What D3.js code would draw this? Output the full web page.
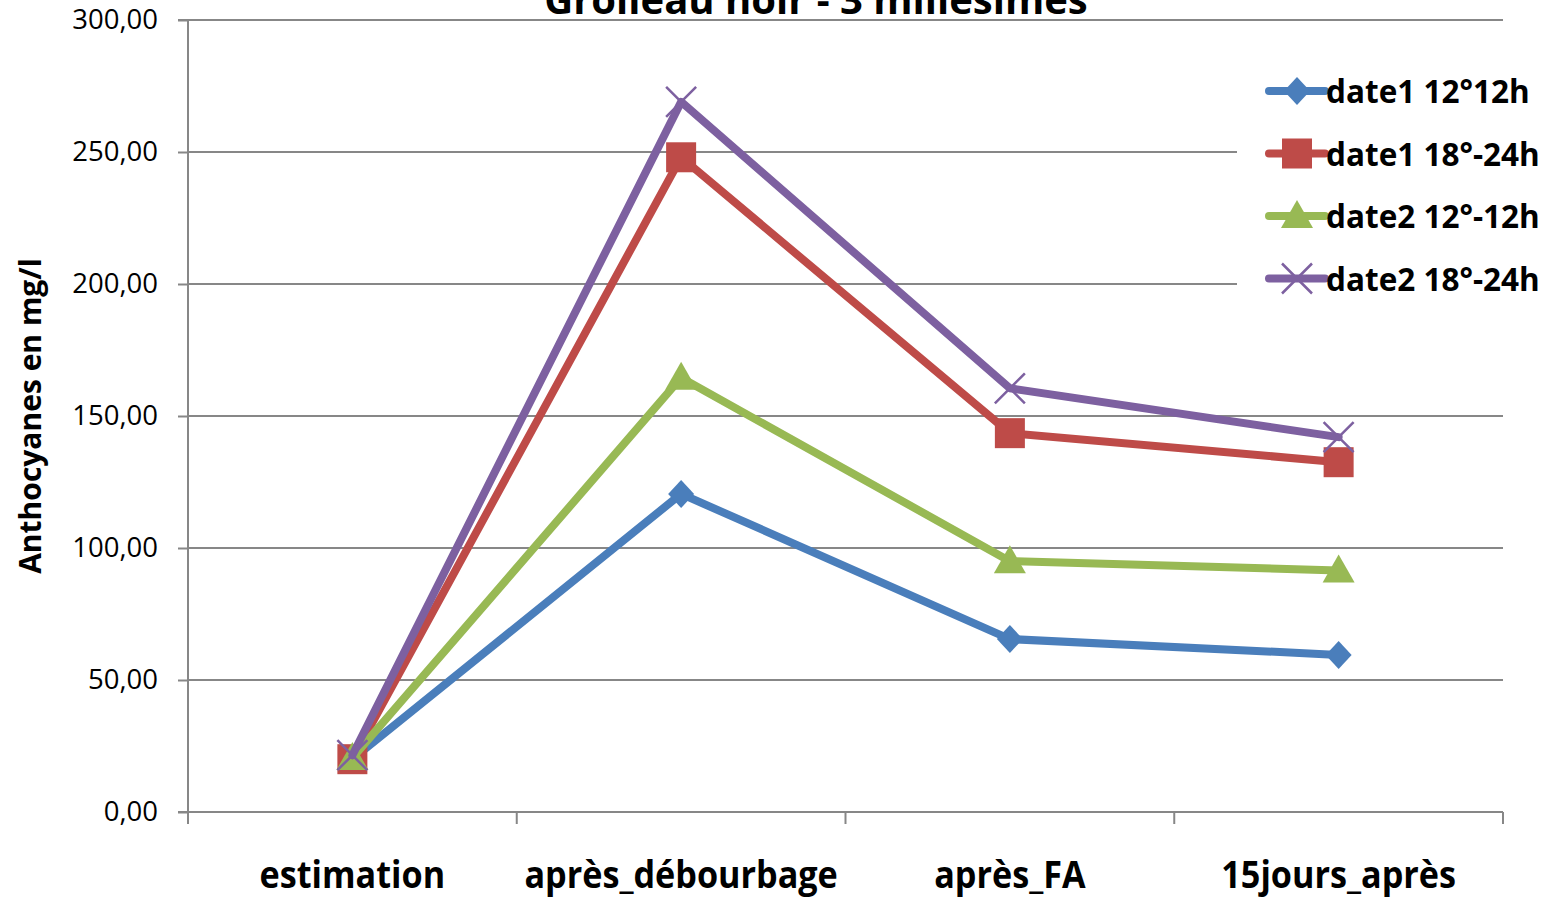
<!DOCTYPE html>
<html>
<head>
<meta charset="utf-8">
<script src="https://cdn.jsdelivr.net/npm/d3@7"></script>
<style>
  body { margin: 0; background: #fff; }
  svg { display: block; }
  .tick text { font-family: "Open Sans", "Noto Sans", sans-serif; }
</style>
</head>
<body>
<div class="chart"></div>
<script>
'use strict';

const W = 1551, H = 899;
const margin = {top: 20, right: 48, bottom: 87, left: 188};
const width = W - margin.left - margin.right;
const height = H - margin.top - margin.bottom;

const title = 'Grolleau noir - 3 millésimes';
const yLabel = 'Anthocyanes en mg/l';
const categories = ['estimation', 'après_débourbage', 'après_FA', '15jours_après'];
const yTicks = [0, 50, 100, 150, 200, 250, 300];

const seriesNames = ['date1 12°12h', 'date1 18°-24h', 'date2 12°-12h', 'date2 18°-24h'];
const seriesColors = ['#4a7ebb', '#be4b48', '#98b954', '#7d60a0'];
const seriesSymbols = ['diamond', 'square', 'triangle', 'cross'];

const date1_12 = [20, 120.5, 65.5, 59.5];
const date1_18 = [20, 248, 143.5, 132.5];
const date2_12 = [20.5, 164.5, 95, 91.5];
const date2_18 = [21.5, 269, 160.5, 142];
const seriesValues = [date1_12, date1_18, date2_12, date2_18];

const svg = d3.select('.chart').append('svg')
    .attr('width', W)
    .attr('height', H);

const g = svg.append('g')
    .attr('transform', `translate(${margin.left},${margin.top})`);

const x = d3.scaleBand().domain(categories).range([0, width]);
const y = d3.scaleLinear().domain([0, 300]).range([height, 0]);

// gridlines
g.append('g')
    .selectAll('line')
    .data(yTicks.filter(d => d > 0))
    .join('line')
    .attr('x1', 0).attr('x2', width)
    .attr('y1', d => y(d)).attr('y2', d => y(d))
    .attr('stroke', '#878787')
    .attr('stroke-width', 2);

// y axis
const yAxis = g.append('g')
    .call(d3.axisLeft(y).tickValues(yTicks)
        .tickFormat(d => d3.format('.2f')(d).replace('.', ','))
        .tickSize(10).tickPadding(20));
yAxis.select('.domain').attr('stroke', '#878787').attr('stroke-width', 2)
    .attr('d', `M-10,0H0V${height}H-10`);
yAxis.selectAll('.tick line').attr('stroke', '#878787').attr('stroke-width', 2);
yAxis.selectAll('.tick text').attr('font-size', 27.5).attr('fill', '#000');

// x axis
const xAxis = g.append('g')
    .attr('transform', `translate(0,${height})`)
    .call(d3.axisBottom(x).tickSize(0).tickPadding(0));
xAxis.select('.domain').attr('stroke', '#878787').attr('stroke-width', 2)
    .attr('d', `M0,0H${width}`);
xAxis.selectAll('.tick text')
    .attr('y', 0)
    .attr('dy', 0)
    .attr('transform', 'translate(0,76) scale(0.9,1)')
    .attr('font-weight', 'bold')
    .attr('font-size', 38)
    .attr('fill', '#000');
xAxis.append('g')
    .selectAll('line')
    .data(d3.range(categories.length + 1))
    .join('line')
    .attr('x1', i => i * x.step()).attr('x2', i => i * x.step())
    .attr('y1', 0).attr('y2', 12)
    .attr('stroke', '#878787').attr('stroke-width', 2);

// title
svg.append('text')
    .attr('x', 816).attr('y', 14)
    .attr('text-anchor', 'middle')
    .attr('font-family', '"Open Sans", sans-serif')
    .attr('font-weight', 'bold')
    .attr('font-size', 40)
    .text(title);

// y label
svg.append('text')
    .attr('transform', `translate(41,${margin.top + height / 2}) rotate(-90)`)
    .attr('text-anchor', 'middle')
    .attr('font-family', '"Open Sans", sans-serif')
    .attr('font-weight', 'bold')
    .attr('font-size', 30)
    .text(yLabel);

const cx = d => x(d) + x.bandwidth() / 2;

function drawMarker(sel, sym, color) {
    if (sym === 'diamond') {
        sel.append('path').attr('d', 'M0,-14L13,0L0,14L-13,0Z').attr('fill', color);
    } else if (sym === 'square') {
        sel.append('rect').attr('x', -15).attr('y', -15).attr('width', 30).attr('height', 30)
            .attr('fill', color);
    } else if (sym === 'triangle') {
        sel.append('path').attr('d', 'M0,-16L16,12L-16,12Z').attr('fill', color);
    } else {
        sel.append('path').attr('d', 'M-15,-15L15,15M15,-15L-15,15')
            .attr('stroke', color).attr('stroke-width', 2.5);
    }
}

const line = d3.line().x((d, i) => cx(categories[i])).y(d => y(d));

seriesValues.forEach((vals, s) => {
    const sg = g.append('g');
    sg.append('path')
        .datum(vals)
        .attr('d', line)
        .attr('fill', 'none')
        .attr('stroke', seriesColors[s])
        .attr('stroke-width', 8)
        .attr('stroke-linejoin', 'round')
        .attr('stroke-linecap', 'round');
    sg.selectAll('g.m')
        .data(vals)
        .join('g')
        .attr('class', 'm')
        .attr('transform', (d, i) => `translate(${cx(categories[i])},${y(d)})`)
        .each(function () { drawMarker(d3.select(this), seriesSymbols[s], seriesColors[s]); });
});

// legend
const legend = svg.append('g').attr('transform', 'translate(1237,60)');
legend.append('rect').attr('width', 314).attr('height', 245).attr('fill', '#fff');
seriesNames.forEach((name, i) => {
    const row = legend.append('g').attr('transform', `translate(0,${31 + i * 62.5})`);
    row.append('line')
        .attr('x1', 32).attr('x2', 88)
        .attr('stroke', seriesColors[i]).attr('stroke-width', 8)
        .attr('stroke-linecap', 'round');
    const m = row.append('g').attr('transform', 'translate(60,0)');
    drawMarker(m, seriesSymbols[i], seriesColors[i]);
    row.append('text')
        .attr('x', 89).attr('y', 12)
        .attr('font-family', '"Open Sans", sans-serif')
        .attr('font-weight', 'bold')
        .attr('font-size', 31.5)
        .text(name);
});
</script>
</body>
</html>
